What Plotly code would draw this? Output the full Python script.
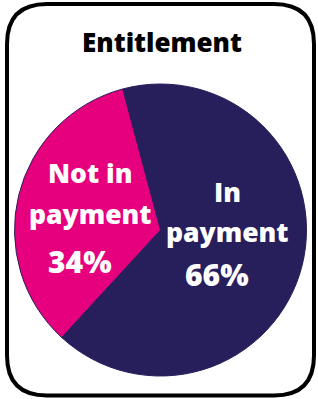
import math
import plotly.graph_objects as go

labels = ["In payment", "Not in payment"]
label_lines = [["In", "payment"], ["Not in", "payment"]]
values = [66, 34]
colors = ["#271E5C", "#E6007E"]
title_text = "Entitlement"

W, H = 318, 399
ROTATION = -15
FONT = "Open Sans"
LABEL_SIZE = 26.5
PCT_SIZE = 30
TITLE_SIZE = 26
WEIGHT = 800

fig = go.Figure(go.Pie(
    labels=labels,
    values=values,
    textinfo="none",
    sort=False,
    direction="clockwise",
    rotation=ROTATION,
    marker=dict(colors=colors, line=dict(color="#271E5C", width=1)),
    showlegend=False,
    hoverinfo="label+percent",
))

ml, mr, mt, mb = 13, 10, 84, 23
pw, ph = W - ml - mr, H - mt - mb
cx, cy = ml + pw / 2, mt + ph / 2
R = min(pw, ph) / 2


def px(x):
    return (x - ml) / pw


def py(y):
    return 1 - (y - mt) / ph


# rounded border
x0, x1, y0, y1, r = 7, 314, 4, 395.5, 40
path = (
    f"M {px(x0 + r)},{py(y0)} L {px(x1 - r)},{py(y0)} "
    f"Q {px(x1)},{py(y0)} {px(x1)},{py(y0 + r)} "
    f"L {px(x1)},{py(y1 - r)} Q {px(x1)},{py(y1)} {px(x1 - r)},{py(y1)} "
    f"L {px(x0 + r)},{py(y1)} Q {px(x0)},{py(y1)} {px(x0)},{py(y1 - r)} "
    f"L {px(x0)},{py(y0 + r)} Q {px(x0)},{py(y0)} {px(x0 + r)},{py(y0)} Z"
)

# slice label annotations placed along each slice bisector
# per-slice nudges (dx per line, baseline dy per line) relative to bisector point
nudges = [
    dict(dx=[0, 0, -10], dy=[-44.5, -4.5, 38.5]),
    dict(dx=[-3.5, -3.5, -13.5], dy=[-31.5, 9.5, 58.5]),
]
total = sum(values)
annotations = []
cum = 0
for i, v in enumerate(values):
    mid = math.radians(ROTATION + 360 * (cum + v / 2) / total)
    cum += v
    bx = cx + 0.47 * R * math.sin(mid)
    by = cy - 0.47 * R * math.cos(mid)
    lines = label_lines[i] + [f"{round(100 * v / total)}%"]
    for j, line in enumerate(lines):
        size = PCT_SIZE if j == len(lines) - 1 else LABEL_SIZE
        tx = bx + nudges[i]["dx"][j]
        base = by + nudges[i]["dy"][j]
        ty = base - 0.36 * size
        annotations.append(dict(
            x=px(tx), y=py(ty), xref="paper", yref="paper",
            xanchor="center", yanchor="middle", showarrow=False,
            text=line,
            font=dict(family=FONT, size=size, color="white", weight=WEIGHT),
        ))

fig.update_layout(
    width=W, height=H,
    margin=dict(l=ml, r=mr, t=mt, b=mb),
    paper_bgcolor="white",
    plot_bgcolor="white",
    title=dict(
        text=title_text,
        x=px(162), xref="paper", xanchor="center",
        y=1 - (52 - 0.36 * TITLE_SIZE) / H, yref="container", yanchor="middle",
        font=dict(family=FONT, size=TITLE_SIZE, color="black", weight=WEIGHT),
    ),
    shapes=[dict(type="path", xref="paper", yref="paper", path=path,
                 line=dict(color="black", width=4), fillcolor="rgba(0,0,0,0)")],
    annotations=annotations,
)

fig.write_html("out.html", config={"displayModeBar": False},
               post_script="document.body.style.margin='0';")
